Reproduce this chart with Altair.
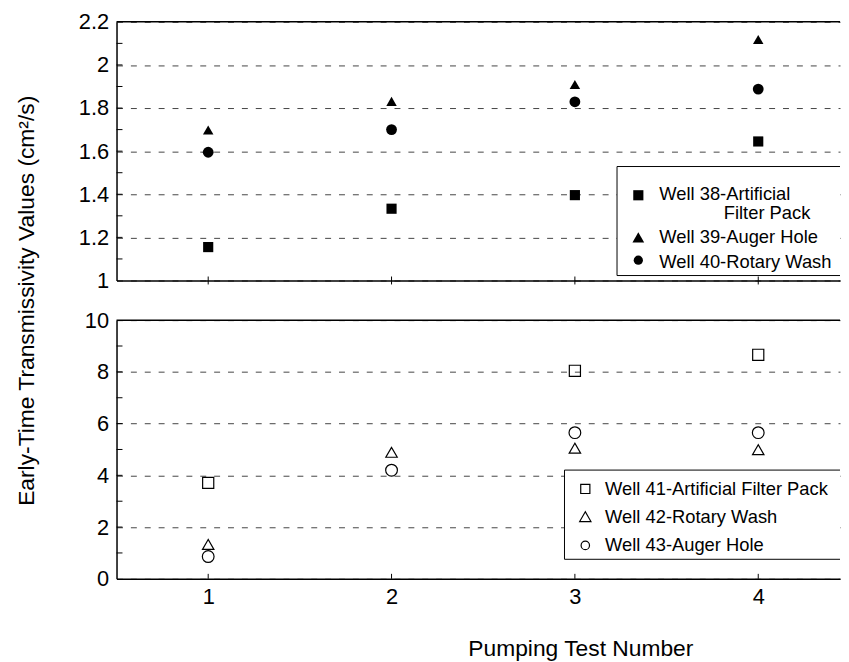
import altair as alt
import pandas as pd

FONT = "Liberation Sans"

# ---------------- data ----------------
tests = [1, 2, 3, 4]

top_names = ["Well 38-Artificial Filter Pack", "Well 39-Auger Hole", "Well 40-Rotary Wash"]
w38 = [1.155, 1.333, 1.396, 1.645]
w39 = [1.698, 1.831, 1.909, 2.118]
w40 = [1.595, 1.700, 1.829, 1.888]

bottom_names = ["Well 41-Artificial Filter Pack", "Well 42-Rotary Wash", "Well 43-Auger Hole"]
w41_tests = [1, 3, 4]
w41 = [3.71, 8.04, 8.66]
w42 = [1.33, 4.89, 5.05, 4.99]
w43 = [0.86, 4.20, 5.65, 5.65]

top_labels = [1.0, 1.2, 1.4, 1.6, 1.8, 2.0, 2.2]
top_minor = [1.1, 1.2, 1.3, 1.4, 1.5, 1.6, 1.7, 1.8, 1.9, 2.0, 2.1]
bottom_labels = [0, 2, 4, 6, 8, 10]
bottom_minor = [1, 2, 3, 4, 5, 6, 7, 8, 9]

y_title = "Early-Time Transmissivity Values (cm²/s)"
x_title = "Pumping Test Number"

# ---------------- tables ----------------
top_df = pd.DataFrame({
    "test": tests * 3,
    "value": w38 + w39 + w40,
    "well": [top_names[0]] * 4 + [top_names[1]] * 4 + [top_names[2]] * 4,
})
bottom_df = pd.DataFrame({
    "test": w41_tests + tests + tests,
    "value": w41 + w42 + w43,
    "well": [bottom_names[0]] * 3 + [bottom_names[1]] * 4 + [bottom_names[2]] * 4,
})

W, H = 730, 261
XDOM = [0.5, 4.446]
TICK_FS = 22    # tick label size
LEG_FS = 18.5   # legend label size
TITLE_FS = 23   # axis title size
GRID = dict(grid=True, gridDash=[6, 8], gridColor="#444444", gridWidth=1)
one = alt.Data(values=[{}])


def xs():
    return alt.Scale(domain=XDOM, nice=False, zero=False)


def panel(df, names, shapes, sizes, filled, ydom, yminor, yaxis, xaxis,
          xtick_y, box, sym_x, rows):
    ys = alt.Scale(domain=ydom, nice=False, zero=False)
    layers = []
    # data points (carry the axes)
    layers.append(alt.Chart(df).mark_point(
        filled=filled, color="black", opacity=1, strokeWidth=1.2
    ).encode(
        x=alt.X("test:Q", scale=xs(), axis=xaxis),
        y=alt.Y("value:Q", scale=ys, axis=yaxis),
        shape=alt.Shape("well:N", scale=alt.Scale(domain=names, range=shapes), legend=None),
        size=alt.Size("well:O", scale=alt.Scale(domain=names, range=sizes), legend=None),
    ))
    # top border
    layers.append(
        alt.Chart(pd.DataFrame({"value": [ydom[1]]})).mark_rule(color="black", strokeWidth=1.5)
        .encode(y=alt.Y("value:Q", scale=ys))
    )
    # inward y ticks
    layers.append(
        alt.Chart(pd.DataFrame({"value": yminor})).mark_rule(color="black", strokeWidth=1)
        .encode(y=alt.Y("value:Q", scale=ys), x=alt.value(0), x2=alt.value(6))
    )
    # x ticks
    layers.append(
        alt.Chart(pd.DataFrame({"test": tests})).mark_rule(color="black", strokeWidth=1)
        .encode(x=alt.X("test:Q", scale=xs()), y=alt.value(xtick_y[0]), y2=alt.value(xtick_y[1]))
    )
    # legend box (white fill + three borders)
    x0, y0, y1 = box
    layers.append(
        alt.Chart(one).mark_rect(fill="white")
        .encode(x=alt.value(x0), x2=alt.value(W), y=alt.value(y0), y2=alt.value(y1))
    )
    for enc in (
        dict(x=alt.value(x0), x2=alt.value(W), y=alt.value(y0)),
        dict(x=alt.value(x0), x2=alt.value(W), y=alt.value(y1)),
        dict(x=alt.value(x0), y=alt.value(y0), y2=alt.value(y1)),
    ):
        layers.append(alt.Chart(one).mark_rule(color="black", strokeWidth=1).encode(**enc))
    # legend symbols and labels
    for name, shp, sz, (sy, lines) in zip(names, shapes, sizes, rows):
        layers.append(
            alt.Chart(alt.Data(values=[{"well": name}]))
            .mark_point(shape=shp, size=sz, filled=filled, color="black", opacity=1, strokeWidth=1.2)
            .encode(x=alt.value(sym_x), y=alt.value(sy))
        )
        for (lx, ly, txt) in lines:
            layers.append(
                alt.Chart(alt.Data(values=[{"label": txt}]))
                .mark_text(align="left", baseline="middle", font=FONT, fontSize=LEG_FS, color="black")
                .encode(x=alt.value(lx), y=alt.value(ly), text="label:N")
            )
    return alt.layer(*layers).properties(width=W, height=H)


top_yaxis = alt.Axis(
    values=top_labels, format="~r", ticks=False, labelPadding=8, labelFontSize=TICK_FS,
    title=y_title, titleX=-91, titleY=281, titleAngle=270, titleBaseline="middle",
    titleAlign="center", titleFontSize=TITLE_FS, **GRID,
)
top_xaxis = alt.Axis(title=None, labels=False, ticks=False, grid=False)

bottom_yaxis = alt.Axis(
    values=bottom_labels, format="~r", ticks=False, labelPadding=8, labelFontSize=TICK_FS,
    title=None, **GRID,
)
bottom_xaxis = alt.Axis(
    values=tests, format="d", ticks=False, grid=False, labelPadding=8, labelFontSize=TICK_FS,
    title=x_title, titleX=468, titleY=70, titleBaseline="middle", titleAlign="center",
    titleFontSize=TITLE_FS,
)

top = panel(
    top_df, top_names, ["square", "triangle-up", "circle"], [105, 140, 87], True,
    [1, 2.2], top_minor, top_yaxis, top_xaxis, (H - 4, H + 4),
    (505, 146, 256), 526.5,
    [
        (175.0, [(547.7, 173.6, "Well 38-Artificial"), (612.7, 193.2, "Filter Pack")]),
        (217.5, [(547.7, 217.0, "Well 39-Auger Hole")]),
        (240.5, [(547.7, 242.3, "Well 40-Rotary Wash")]),
    ],
)

bottom = panel(
    bottom_df, bottom_names, ["square", "triangle-up", "circle"], [85, 130, 72], False,
    [0, 10], bottom_minor, bottom_yaxis, bottom_xaxis, (H - 5, H),
    (452, 151.3, 241.3), 473,
    [
        (170.3, [(493, 170.3, "Well 41-Artificial Filter Pack")]),
        (198.3, [(493, 198.3, "Well 42-Rotary Wash")]),
        (227.3, [(493, 227.3, "Well 43-Auger Hole")]),
    ],
)

chart = alt.vconcat(top, bottom, spacing=40, bounds="flush").properties(
    padding={"left": 7.5, "top": 0, "right": 0, "bottom": 0}
).configure_view(stroke=None).configure_axis(
    labelFont=FONT, titleFont=FONT, labelColor="black", titleColor="black",
    domainColor="black", domainWidth=1.5, titleFontWeight="normal",
)

chart.save("out.html", embed_options={"renderer": "svg", "actions": False})
